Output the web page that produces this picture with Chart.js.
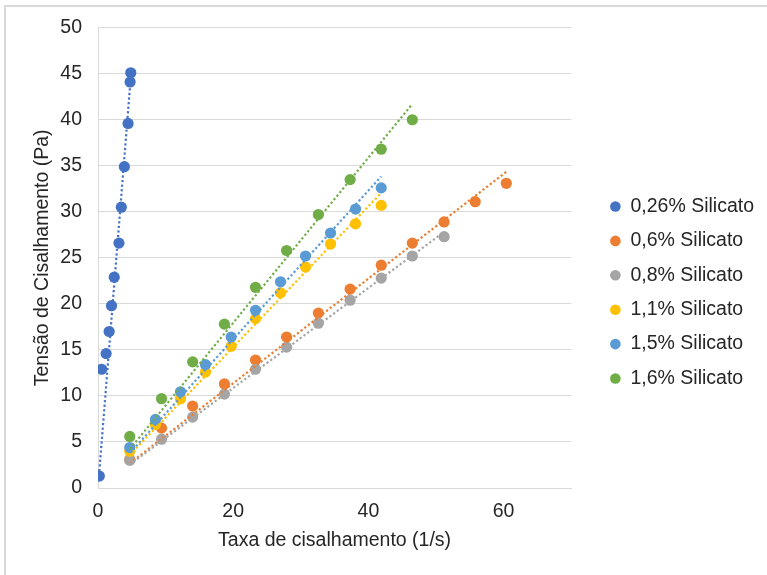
<!DOCTYPE html>
<html>
<head>
<meta charset="utf-8">
<script src="https://cdn.jsdelivr.net/npm/chart.js@4"></script>
<style>
  html, body { margin: 0; padding: 0; background: #fff; }
  #wrap { position: relative; width: 767px; height: 575px; overflow: hidden; }
  #frame { position: absolute; left: 4px; top: 5px; width: 800px; height: 600px;
           border-top: 2px solid #D9D9D9; border-left: 2px solid #D9D9D9; box-sizing: border-box; }
  #chart { position: absolute; left: 0; top: 0; }
</style>
</head>
<body>
<div id="wrap">
  <div id="frame"></div>
  <canvas id="chart" width="767" height="575"></canvas>
</div>
<script>
// Series names and colours
const seriesNames = ['0,26% Silicato', '0,6% Silicato', '0,8% Silicato', '1,1% Silicato', '1,5% Silicato', '1,6% Silicato'];
const seriesColors = ['#4472C4', '#ED7D31', '#A5A5A5', '#FFC000', '#5B9BD5', '#70AD47'];

// Shear rate (1/s)
const rate026 = [0.2, 0.55, 1.2, 1.65, 2.0, 2.4, 3.1, 3.45, 3.9, 4.45, 4.75, 4.85];
const rate06 = [4.7, 9.4, 14.0, 18.7, 23.3, 27.9, 32.6, 37.3, 41.9, 46.5, 51.2, 55.8, 60.4];
const rate08 = [4.7, 9.4, 14.0, 18.7, 23.3, 27.9, 32.6, 37.3, 41.9, 46.5, 51.2];
const rate11 = [4.7, 8.5, 12.2, 15.9, 19.7, 23.3, 27.0, 30.7, 34.4, 38.1, 41.9];
const rate15 = [4.7, 8.5, 12.2, 15.9, 19.7, 23.3, 27.0, 30.7, 34.4, 38.1, 41.9];
const rate16 = [4.7, 9.4, 14.0, 18.7, 23.3, 27.9, 32.6, 37.3, 41.9, 46.5];

// Shear stress (Pa)
const stress026 = [1.3, 12.9, 14.6, 17.0, 19.8, 22.9, 26.6, 30.5, 34.9, 39.6, 44.1, 45.1];
const stress06 = [3.1, 6.5, 8.9, 11.3, 13.9, 16.4, 19.0, 21.6, 24.2, 26.6, 28.9, 31.1, 33.1];
const stress08 = [3.0, 5.3, 7.7, 10.2, 12.9, 15.3, 17.9, 20.4, 22.8, 25.2, 27.3];
const stress11 = [4.0, 6.9, 9.7, 12.6, 15.4, 18.4, 21.2, 24.0, 26.5, 28.7, 30.7];
const stress15 = [4.4, 7.45, 10.45, 13.4, 16.4, 19.3, 22.4, 25.2, 27.7, 30.3, 32.6];
const stress16 = [5.6, 9.7, 13.7, 17.8, 21.8, 25.8, 29.7, 33.5, 36.8, 40.0];

// Axis ticks
const xTicks = [0, 20, 40, 60];
const xMax = 70;
const yMax = 50;
const yStep = 5;

const rates = [rate026, rate06, rate08, rate11, rate15, rate16];
const stresses = [stress026, stress06, stress08, stress11, stress15, stress16];

// linear trendline through the origin (least squares), from first to last x
function trend(xs, ys) {
  let sxx = 0, sxy = 0;
  for (let i = 0; i < xs.length; i++) {
    sxx += xs[i] * xs[i];
    sxy += xs[i] * ys[i];
  }
  const b = sxy / sxx;
  const x0 = Math.min(...xs), x1 = Math.max(...xs);
  return [{ x: x0, y: b * x0 }, { x: x1, y: b * x1 }];
}

const FONT = "'Liberation Sans', Arial, sans-serif";
const TEXT = '#262626';

let datasets = [];
seriesNames.forEach((name, i) => {
  datasets.push({
    label: name,
    data: rates[i].map((x, j) => ({ x: x, y: stresses[i][j] })),
    backgroundColor: seriesColors[i],
    borderColor: seriesColors[i],
    pointRadius: 5.6,
    pointBorderWidth: 0,
    pointHoverRadius: 5.6,
    order: 20 - i
  });
});
seriesNames.forEach((name, i) => {
  datasets.push({
    type: 'line',
    label: 'trend ' + name,
    data: trend(rates[i], stresses[i]),
    borderColor: seriesColors[i],
    borderWidth: 2.2,
    borderDash: [2.2, 2.4],
    pointRadius: 0,
    fill: false,
    order: 10 - i
  });
});

// legend sits a little away from the plot area
const legendShift = {
  id: 'legendShift',
  afterLayout(chart) {
    chart.legend.left += 24;
    chart.legend.right += 24;
    chart.legend.top += 1.5;
    chart.legend.bottom += 1.5;
  }
};

new Chart(document.getElementById('chart'), {
  type: 'scatter',
  data: { datasets: datasets },
  plugins: [legendShift],
  options: {
    responsive: false,
    animation: false,
    layout: { padding: { left: 25, top: 27, right: 27, bottom: 20 } },
    plugins: {
      tooltip: { enabled: false },
      legend: {
        position: 'right',
        labels: {
          usePointStyle: true,
          pointStyle: 'circle',
          boxHeight: 7.5,
          pointStyleWidth: 10.6,
          padding: 14.9,
          color: TEXT,
          font: { family: FONT, size: 19.5 },
          filter: item => item.datasetIndex < seriesNames.length,
          sort: (a, b) => a.datasetIndex - b.datasetIndex
        }
      }
    },
    scales: {
      x: {
        type: 'linear',
        min: 0,
        max: xMax,
        afterBuildTicks: scale => { scale.ticks = xTicks.map(v => ({ value: v })); },
        afterFit: scale => { scale.height = 67; },
        grid: { display: false, drawTicks: false },
        border: { display: true, color: '#D9D9D9', width: 1 },
        ticks: { color: TEXT, font: { family: FONT, size: 19.5 }, padding: 12 },
        title: {
          display: true,
          text: 'Taxa de cisalhamento (1/s)',
          color: TEXT,
          font: { family: FONT, size: 19.5 },
          padding: { top: 6, bottom: 2.3 }
        }
      },
      y: {
        min: 0,
        max: yMax,
        afterFit: scale => { scale.width = 73; },
        ticks: { stepSize: yStep, color: TEXT, font: { family: FONT, size: 19.5 }, padding: 16 },
        grid: { color: '#D9D9D9', lineWidth: 1, drawTicks: false },
        border: { display: true, color: '#D9D9D9', width: 1 },
        title: {
          display: true,
          text: 'Tensão de Cisalhamento (Pa)',
          color: TEXT,
          font: { family: FONT, size: 19.5 },
          padding: { top: 6.3, bottom: 5.6 }
        }
      }
    }
  }
});
</script>
</body>
</html>
